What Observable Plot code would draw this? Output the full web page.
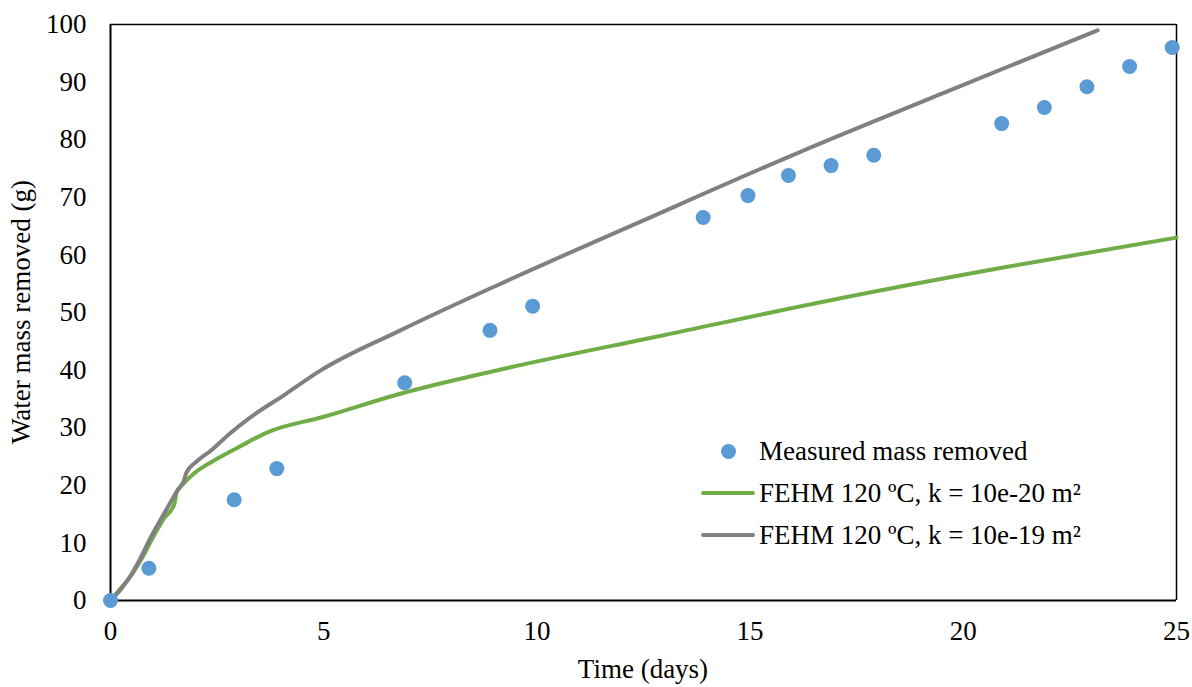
<!DOCTYPE html>
<html>
<head>
<meta charset="utf-8">
<script src="https://cdn.jsdelivr.net/npm/d3@7"></script>
<script src="https://cdn.jsdelivr.net/npm/@observablehq/plot@0.6"></script>
<style>
  html, body { margin: 0; padding: 0; background: #fff; }
  #wrap { position: relative; width: 1192px; height: 687px; font-family: "Liberation Serif", "Times New Roman", serif; }
  #wrap svg text { font-family: "Liberation Serif", "Times New Roman", serif !important; font-size: 27px !important; fill: #000; }
  .legend { position: absolute; left: 700px; top: 430px; font-size: 27px; color: #000; font-family: "Liberation Serif", serif; }
  .row { display: flex; align-items: center; height: 42px; }
  .sym { width: 56px; display: flex; justify-content: center; align-items: center; margin-right: 3px; }
  .dot { width: 15px; height: 15px; border-radius: 50%; background: #5B9BD5; }
  .ln { width: 54px; height: 4px; border-radius: 2px; }
</style>
</head>
<body>
<div id="wrap"></div>
<script>
// Measured data
const measuredDays = [0, 0.9, 2.9, 3.9, 6.9, 8.9, 9.9, 13.9, 14.95, 15.9, 16.9, 17.9, 20.9, 21.9, 22.9, 23.9, 24.9];
const measuredMass = [0, 5.6, 17.5, 22.9, 37.8, 46.9, 51.1, 66.5, 70.3, 73.8, 75.5, 77.3, 82.8, 85.6, 89.2, 92.7, 96.0];

// FEHM k = 10e-20 m²
const k20Days = [0, 0.25, 0.5, 0.75, 1.0, 1.25, 1.5, 1.55, 1.7, 1.95, 2.5, 3.0, 3.68, 5, 6.8, 9.15, 13, 17, 21, 25];
const k20Mass = [0, 2.2, 4.5, 7.5, 11.0, 14.2, 16.8, 18.8, 20.2, 22.0, 24.6, 26.6, 29.2, 31.9, 35.9, 40.1, 46.1, 52.3, 57.9, 63.0];

// FEHM k = 10e-19 m²
const k19Days = [0, 0.25, 0.47, 0.7, 0.94, 1.25, 1.57, 1.72, 1.78, 2.0, 2.35, 2.8, 3.28, 4.1, 4.92, 6.8, 9.15, 12.5, 16.18, 19.7, 23.15];
const k19Mass = [0, 2.0, 4.3, 7.3, 10.9, 15.0, 19.1, 20.8, 22.2, 24.0, 26.0, 29.0, 31.8, 35.8, 39.9, 46.9, 55.0, 66.0, 77.9, 88.6, 99.0];

const xTicks = [0, 5, 10, 15, 20, 25];
const yTicks = [0, 10, 20, 30, 40, 50, 60, 70, 80, 90, 100];

const labels = {
  measured: "Measured mass removed",
  k20: "FEHM 120 ºC, k = 10e-20 m²",
  k19: "FEHM 120 ºC, k = 10e-19 m²",
  x: "Time (days)",
  y: "Water mass removed (g)"
};
const colors = { measured: "#5B9BD5", k20: "#70AD47", k19: "#808080" };

const measured = measuredDays.map((d, i) => ({ x: d, y: measuredMass[i] }));
const k20 = k20Days.map((d, i) => ({ x: d, y: k20Mass[i] }));
const k19 = k19Days.map((d, i) => ({ x: d, y: k19Mass[i] }));

const chart = Plot.plot({
  width: 1192,
  height: 687,
  marginLeft: 110,
  marginRight: 16,
  marginTop: 24,
  marginBottom: 87,
  style: { fontFamily: "'Liberation Serif', 'Times New Roman', serif", fontSize: "27px", color: "#000", background: "#fff" },
  x: { domain: [0, 25], ticks: xTicks },
  y: { domain: [0, 100], ticks: yTicks },
  marks: [
    Plot.axisX({ ticks: xTicks, tickSize: 0, tickPadding: 20, fontSize: 27, label: null }),
    Plot.axisY({ ticks: yTicks, tickSize: 0, tickPadding: 24, fontSize: 27, label: null }),
    Plot.ruleY([100], { stroke: "#000", strokeWidth: 1.5 }),
    Plot.ruleX([25], { stroke: "#000", strokeWidth: 1.5 }),
    Plot.ruleX([0], { stroke: "#000", strokeWidth: 2 }),
    Plot.ruleY([0], { stroke: "#000", strokeWidth: 2 }),
    Plot.line(k20, { x: "x", y: "y", stroke: colors.k20, strokeWidth: 4, curve: "monotone-x", strokeLinecap: "round" }),
    Plot.line(k19, { x: "x", y: "y", stroke: colors.k19, strokeWidth: 4, curve: "monotone-x", strokeLinecap: "round" }),
    Plot.dot(measured, { x: "x", y: "y", r: 7.5, fill: colors.measured, stroke: null })
  ]
});

const wrap = document.getElementById("wrap");
wrap.appendChild(chart);

const svg = d3.select(chart.tagName.toLowerCase() === "svg" ? chart : chart.querySelector("svg"));
svg.append("text")
  .attr("x", 643).attr("y", 678)
  .attr("text-anchor", "middle")
  .text(labels.x);
svg.append("text")
  .attr("transform", "translate(30,312) rotate(-90)")
  .attr("text-anchor", "middle")
  .text(labels.y);

const legend = document.createElement("div");
legend.className = "legend";
legend.innerHTML = `
  <div class="row"><div class="sym"><div class="dot"></div></div><span>${labels.measured}</span></div>
  <div class="row"><div class="sym"><div class="ln" style="background:${colors.k20}"></div></div><span>${labels.k20}</span></div>
  <div class="row"><div class="sym"><div class="ln" style="background:${colors.k19}"></div></div><span>${labels.k19}</span></div>`;
wrap.appendChild(legend);
</script>
</body>
</html>
